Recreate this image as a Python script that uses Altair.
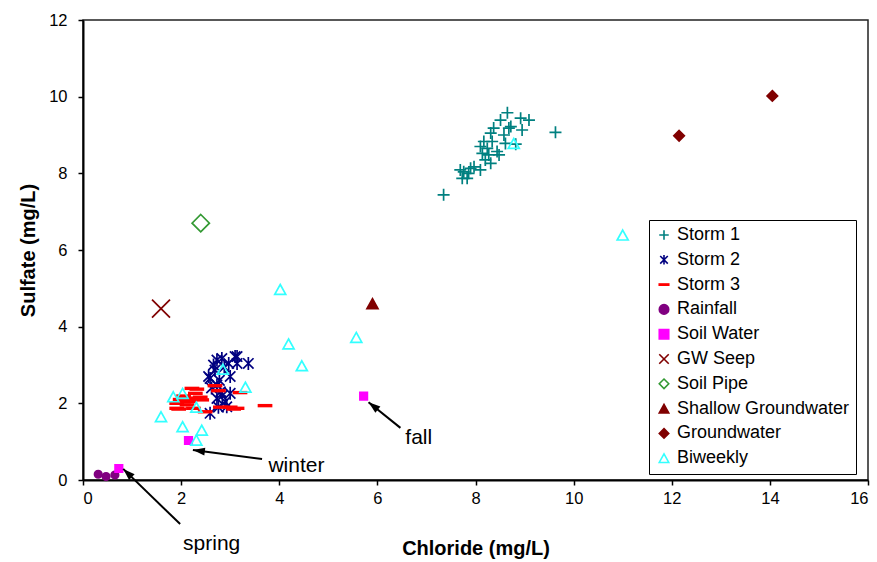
import math
import altair as alt
import pandas as pd

# ---- measured samples: chloride (x) and sulfate (y), mg/L ----
storm1_cl = [8.65, 8.51, 8.92, 9.09, 8.68, 8.72, 8.37, 8.95, 8.31, 8.58, 9.63, 8.17, 8.34, 8.61, 8.82,
             8.10, 8.24, 8.44, 8.14, 8.27, 8.48, 8.20, 8.31, 7.97, 7.90, 8.10, 7.69, 7.76, 7.86, 7.73, 7.83, 7.35]
storm1_so = [9.58, 9.39, 9.44, 9.39, 9.18, 9.22, 9.18, 9.13, 9.05, 9.00, 9.07, 8.83, 8.83, 8.78, 8.76,
             8.70, 8.65, 8.57, 8.52, 8.48, 8.48, 8.35, 8.26, 8.17, 8.13, 8.09, 8.09, 8.04, 8.00, 7.87, 7.87, 7.44]

storm2_cl = [3.10, 3.37, 2.97, 2.73, 2.66, 2.59, 2.69, 3.00, 2.73, 2.80, 3.00, 2.73, 2.90, 2.59, 2.83, 3.14,
             2.56, 2.93, 3.14, 2.84, 2.76, 2.88, 2.62, 2.78]
storm2_so = [3.22, 3.04, 3.04, 3.13, 3.00, 2.65, 2.87, 2.70, 2.48, 2.30, 2.26, 2.13, 2.04, 1.74, 3.17, 3.04,
             2.70, 1.91, 3.22, 2.20, 1.90, 2.95, 2.40, 2.60]

storm3_cl = [2.22, 1.91, 1.91, 2.32, 2.42, 2.12, 2.05, 2.25, 2.32, 2.69, 2.76, 3.20, 2.39, 3.00, 3.71, 2.80,
             2.49, 3.14, 3.07, 1.95, 2.05, 2.25, 2.29, 1.98, 2.15]
storm3_so = [2.39, 2.00, 1.87, 2.13, 2.09, 1.96, 2.04, 1.87, 2.37, 2.46, 2.33, 2.28, 2.16, 1.90, 1.94, 1.90,
             1.78, 1.87, 1.85, 1.85, 2.19, 2.13, 2.26, 2.10, 2.05]

rainfall_cl = [0.31, 0.47, 0.65]
rainfall_so = [0.15, 0.09, 0.13]

soilwater_cl = [0.73, 2.15, 5.72]
soilwater_so = [0.30, 1.03, 2.19]

gwseep_cl = [1.59]
gwseep_so = [4.47]

soilpipe_cl = [2.40]
soilpipe_so = [6.70]

shallow_cl = [5.90]
shallow_so = [4.60]

groundwater_cl = [12.15, 14.05]
groundwater_so = [8.98, 10.02]

biweekly_cl = [1.59, 1.84, 2.03, 2.31, 2.03, 2.42, 2.31, 2.85, 3.31, 4.02, 4.19, 4.46, 5.57, 8.78, 11.00]
biweekly_so = [1.65, 2.17, 2.26, 1.90, 1.39, 1.30, 1.04, 2.89, 2.42, 4.97, 3.55, 2.98, 3.72, 8.78, 6.39]

series_names = ["Storm 1", "Storm 2", "Storm 3", "Rainfall", "Soil Water", "GW Seep",
                "Soil Pipe", "Shallow Groundwater", "Groundwater", "Biweekly"]
series_data = [(storm1_cl, storm1_so), (storm2_cl, storm2_so), (storm3_cl, storm3_so),
               (rainfall_cl, rainfall_so), (soilwater_cl, soilwater_so), (gwseep_cl, gwseep_so),
               (soilpipe_cl, soilpipe_so), (shallow_cl, shallow_so), (groundwater_cl, groundwater_so),
               (biweekly_cl, biweekly_so)]

# marker styling per series
marker_paths = [
    "M-1,0L1,0M0,-1L0,1",                                        # plus
    "M0,-1L0,1M-0.8,-0.8L0.8,0.8M-0.8,0.8L0.8,-0.8",             # asterisk
    "M-1,-0.13L1,-0.13L1,0.13L-1,0.13Z",                         # dash
    "M1,0A1,1,0,1,1,-1,0A1,1,0,1,1,1,0Z",                        # circle
    "M-1,-1L1,-1L1,1L-1,1Z",                                     # square
    "M-1,-1L1,1M-1,1L1,-1",                                      # x
    "M0,-1L1,0L0,1L-1,0Z",                                       # diamond
    "M0,-0.9L1,0.9L-1,0.9Z",                                     # triangle
    "M0,-1L1,0L0,1L-1,0Z",                                       # diamond
    "M0,-0.9L1,0.9L-1,0.9Z",                                     # triangle
]
stroke_colors = ["#008080", "#000080", "#FF0000", "#800080", "#FF00FF", "#800000",
                 "#339933", "#800000", "#800000", "#33FFFF"]
fill_colors = ["transparent", "transparent", "#FF0000", "#800080", "#FF00FF", "transparent",
               "transparent", "#800000", "#800000", "transparent"]
marker_sizes = [144, 169, 169, 56, 56, 324, 300, 121, 110, 121]
size_of = dict(zip(series_names, marker_sizes))

rows = []
for name, (xs, ys) in zip(series_names, series_data):
    for xv, yv in zip(xs, ys):
        rows.append({"series": name, "chloride": xv, "sulfate": yv, "msize": size_of[name]})
df = pd.DataFrame(rows)
df["idx"] = range(len(df))

# ---- annotations (season labels with arrows) ----
ann_label = ["spring", "winter", "fall"]
ann_head_x = [0.82, 2.24, 5.82]
ann_head_y = [0.29, 0.78, 2.03]
ann_tail_x = [1.98, 3.65, 6.47]
ann_tail_y = [-1.15, 0.55, 1.36]
ann_text_x = [2.04, 3.78, 6.57]
ann_text_y = [-1.67, 0.37, 1.10]

W, H = 785, 460
X_MAX, Y_MAX = 16, 12
kx, ky = W / X_MAX, H / Y_MAX

angles = []
for hx, hy, tx, ty in zip(ann_head_x, ann_head_y, ann_tail_x, ann_tail_y):
    dx = (hx - tx) * kx
    dy = -(hy - ty) * ky
    angles.append(math.degrees(math.atan2(dx, -dy)) % 360)

ann = pd.DataFrame({"label": ann_label, "hx": ann_head_x, "hy": ann_head_y,
                    "tx": ann_tail_x, "ty": ann_tail_y,
                    "lx": ann_text_x, "ly": ann_text_y, "angle": angles})

FONT = "Liberation Sans"

x_scale = alt.Scale(domain=[0, X_MAX], nice=False)
y_scale = alt.Scale(domain=[0, Y_MAX], nice=False)

legend = alt.Legend(orient="none", legendX=566, legendY=200, title=None,
                    labelFontSize=18, labelFont=FONT, labelColor="black", labelLimit=400,
                    strokeColor="black", fillColor="white", padding=6,
                    rowPadding=6.8, symbolSize=90, symbolStrokeWidth=1.6,
                    labelOffset=4, cornerRadius=0)

points = alt.Chart(df).mark_point(opacity=1, strokeWidth=1.7).encode(
    x=alt.X("chloride:Q", scale=x_scale,
            axis=alt.Axis(values=list(range(0, X_MAX + 1, 2)), title="Chloride (mg/L)")),
    y=alt.Y("sulfate:Q", scale=y_scale,
            axis=alt.Axis(values=list(range(0, Y_MAX + 1, 2)), title="Sulfate (mg/L)")),
    shape=alt.Shape("series:N", scale=alt.Scale(domain=series_names, range=marker_paths), legend=legend),
    stroke=alt.Stroke("series:N", scale=alt.Scale(domain=series_names, range=stroke_colors), legend=legend),
    fill=alt.Fill("series:N", scale=alt.Scale(domain=series_names, range=fill_colors), legend=legend),
    size=alt.Size("msize:Q", scale=None),
    order=alt.Order("idx:Q"),
)

arrows = alt.Chart(ann).mark_rule(color="black", strokeWidth=2).encode(
    x="tx:Q", y="ty:Q", x2="hx:Q", y2="hy:Q")

heads = alt.Chart(ann).mark_point(
    shape="M0,0L4,12L-4,12Z", filled=True, color="black", opacity=1, size=4
).encode(x="hx:Q", y="hy:Q", angle=alt.Angle("angle:Q", scale=None))

labels = alt.Chart(ann).mark_text(
    align="left", baseline="middle", font=FONT, fontSize=21, color="black"
).encode(x="lx:Q", y="ly:Q", text="label:N")

chart = alt.layer(points, arrows, heads, labels).properties(
    width=W, height=H,
    autosize=alt.AutoSizeParams(type="none"),
    padding={"left": 83, "top": 20, "right": 9, "bottom": 82},
).configure_view(
    stroke="#222222", strokeWidth=1.5
).configure_axis(
    grid=False, labelFont=FONT, titleFont=FONT, labelFontSize=16.5, titleFontSize=20,
    titleFontWeight="bold", labelColor="black", titleColor="black",
    domainColor="black", domainWidth=2, tickColor="black", tickWidth=1.5, tickSize=5
).configure_axisX(
    labelPadding=5, titlePadding=32
).configure_axisY(
    labelPadding=11, titlePadding=10
)

chart.save("out.html", embed_options={"renderer": "svg", "actions": False})
